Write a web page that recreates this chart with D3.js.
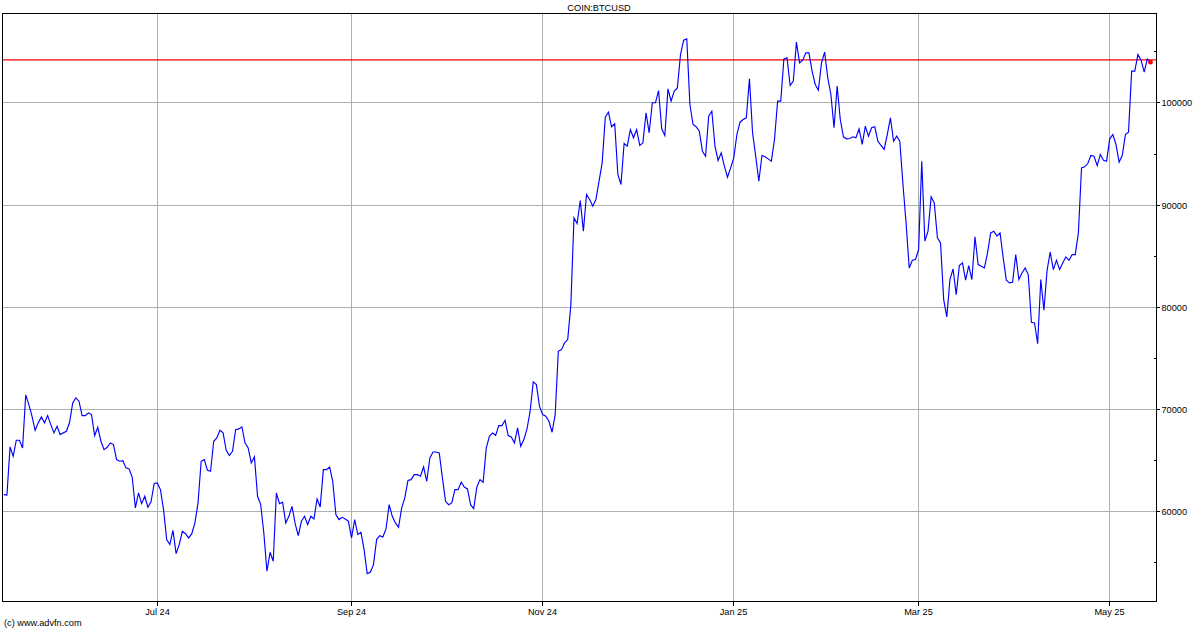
<!DOCTYPE html>
<html><head><meta charset="utf-8">
<script src="https://cdn.jsdelivr.net/npm/d3@7"></script>
<style>
html,body{margin:0;padding:0;background:#fff;}
svg{display:block;}
text{font-family:"Liberation Sans",Arial,Helvetica,sans-serif;fill:#000;}
</style>
</head><body>
<svg id="chart" width="1200" height="630"></svg>
<script>
// ---------- DATA ----------
const chartTitle = "COIN:BTCUSD";
const footerText = "(c) www.advfn.com";
const startDate = "2024-05-13";            // first daily close
const xDomain = ["2024-05-12T14:10:00Z", "2025-05-15T22:20:00Z"];
const yDomain = [51139, 108712];

const closesMay24 = [61600,61550,66280,65360,66930,66930,66170,71370,70420,69280,67900,68630,69210,68630,69340,68460,67650,68300,67480];
const closesJun24 = [67650,67810,68690,70580,71070,70750,69340,69340,69600,69440,67380,68200,66830,66010,66240,66670,66500,65030,64870,64930,64220,64120,63300,60300,61770,60720,61440,60370,60890,62690];
const closesJul24 = [62750,62100,60140,57200,56710,58110,55830,56710,58010,57780,57360,57780,58830,60790,64870,65030,63990,63890,66830,67160,67910,67650,65950,65430,65850,67970,68040,68230,66670,66180,64710];
const closesAug24 = [65300,61440,60630,57850,54100,55960,55080,61770,60720,60850,58830,59480,60460,58770,57590,58990,59480,58670,59480,59220,61180,60400,64050,64050,64310,62910,59650,59160,59380,59220,58990];
const closesSep24 = [57360,59160,57690,57920,56220,53870,54000,54750,57200,57590,57460,58240,60620,59480,58830,58400,60300,61280,62980,63070,63560,63560,63400,64310,62910,65200,65780,65780,65680,63240];
const closesOct24 = [60950,60620,60790,62090,62090,62810,62350,62160,60620,60230,62350,63070,62810,66170,67320,67640,67410,68360,68360,68880,67380,67250,66660,68130,66340,66990,68030,69770,72640,72380,70240];
const closesNov24 = [69440,69280,68790,67710,69440,75640,75800,76460,76790,80210,88700,88150,90400,87400,90990,90500,89840,90500,92300,94090,98560,99050,97620,97910,92950,91970,95980,95720,97350,96540];
const closesDec24 = [97350,95790,96050,98990,97030,99970,99970,101170,97420,96770,101340,100130,101110,101430,104700,106100,106230,99800,97840,97620,97190,95230,94740,98660,99150,95720,94320,95070,93760,92680,93600];
const closesJan25 = [94580,96860,98070,98330,98500,102320,97030,94740,92290,94810,94680,94480,94250,96370,100130,100130,104275,104370,101660,102090,105910,103880,104140,104860,104860,103070,101760,101200,103880,104930,102420];
const closesFeb25 = [100780,97520,101600,98330,96640,96440,96470,96640,96540,97420,95890,97680,96700,97520,97620,96210,95790,95400,96860,98500,96210,96700,96210,92000,88200,83800,84550,84620];
const closesMar25 = [85600,94250,86420,87400,90760,90170,86740,86250,80700,79000,82660,83700,81190,84030,84290,82600,84030,82660,86840,84130,83970,83800,85270,87230,87400,86910,87230,84780,82600,82340,82400];
const closesApr25 = [85110,82660,83310,83800,83150,78480,78420,76390,82660,79660,83570,85340,83640,84550,83640,84290,84880,84550,85110,85110,87230,93600,93700,94020,94810,94740,93820,94900,94350,94250];
const closesMay25 = [96440,96860,95890,94150,94810,96860,97100,103070,103070,104700,104140,102970,104270,103950];

const refPrice = 104180;   // red horizontal reference line

const yGridValues  = [60000, 70000, 80000, 90000, 100000];
const yGridLabels  = ["60000", "70000", "80000", "90000", "100000"];
const yMinorValues = [55000, 65000, 75000, 85000, 95000, 105000];
const xTickDates   = ["2024-07-01", "2024-09-01", "2024-11-01", "2025-01-01", "2025-03-01", "2025-05-01"];
const xTickLabels  = ["Jul 24", "Sep 24", "Nov 24", "Jan 25", "Mar 25", "May 25"];

// ---------- BUILD ----------
const closes = [].concat(closesMay24, closesJun24, closesJul24, closesAug24, closesSep24, closesOct24,
  closesNov24, closesDec24, closesJan25, closesFeb25, closesMar25, closesApr25, closesMay25);
const d0 = new Date(startDate + "T00:00:00Z");
const series = closes.map((v, i) => ({ date: d3.utcDay.offset(d0, i), value: v }));

const L = 2.5, R = 1156.5, T = 13.5, B = 601.5;
const svg = d3.select("#chart");

const x = d3.scaleUtc().domain(xDomain.map(s => new Date(s))).range([L, R]);
const y = d3.scaleLinear().domain(yDomain).range([B, T]);

const gridColor = "#a9b1b1";

// horizontal grid
svg.append("g").selectAll("line").data(yGridValues).join("line")
  .attr("x1", L).attr("x2", R)
  .attr("y1", d => Math.round(y(d)) + 0.5).attr("y2", d => Math.round(y(d)) + 0.5)
  .attr("stroke", gridColor).attr("stroke-width", 1).attr("shape-rendering", "crispEdges");

// vertical grid
const xTicks = xTickDates.map(s => new Date(s + "T00:00:00Z"));
svg.append("g").selectAll("line").data(xTicks).join("line")
  .attr("x1", d => Math.floor(x(d)) + 0.5).attr("x2", d => Math.floor(x(d)) + 0.5)
  .attr("y1", T).attr("y2", B)
  .attr("stroke", gridColor).attr("stroke-width", 1).attr("shape-rendering", "crispEdges");

// clip for the series
svg.append("clipPath").attr("id", "plotclip").append("rect")
  .attr("x", L).attr("y", T).attr("width", R - L).attr("height", B - T);

// reference line
svg.append("line")
  .attr("x1", L).attr("x2", R)
  .attr("y1", y(refPrice)).attr("y2", y(refPrice))
  .attr("stroke", "#ff0000").attr("stroke-width", 1.2);

// price line
const line = d3.line().x(d => x(d.date)).y(d => y(d.value));
svg.append("path").datum(series)
  .attr("clip-path", "url(#plotclip)")
  .attr("d", line)
  .attr("fill", "none").attr("stroke", "#0000ff").attr("stroke-width", 1.15)
  .attr("stroke-linejoin", "miter");

// last point marker
const last = series[series.length - 1];
svg.append("circle").attr("cx", x(last.date)).attr("cy", y(last.value)).attr("r", 2.4).attr("fill", "#ff0000");

// frame
svg.append("rect").attr("x", L).attr("y", T).attr("width", R - L).attr("height", B - T)
  .attr("fill", "none").attr("stroke", "#000").attr("stroke-width", 1).attr("shape-rendering", "crispEdges");

// right axis ticks + labels
svg.append("g").selectAll("line").data(yGridValues).join("line")
  .attr("x1", R).attr("x2", R + 3)
  .attr("y1", d => Math.round(y(d)) + 0.5).attr("y2", d => Math.round(y(d)) + 0.5)
  .attr("stroke", "#000").attr("shape-rendering", "crispEdges");
svg.append("g").selectAll("line").data(yMinorValues).join("line")
  .attr("x1", R - 3).attr("x2", R)
  .attr("y1", d => Math.round(y(d)) + 0.5).attr("y2", d => Math.round(y(d)) + 0.5)
  .attr("stroke", "#000").attr("shape-rendering", "crispEdges");
svg.append("g").selectAll("text").data(yGridValues).join("text")
  .attr("x", R + 5).attr("y", d => Math.round(y(d)) + 3.5)
  .attr("font-size", 9.2).text((d, i) => yGridLabels[i]);

// bottom axis ticks + labels
svg.append("g").selectAll("line").data(xTicks).join("line")
  .attr("x1", d => Math.floor(x(d)) + 0.5).attr("x2", d => Math.floor(x(d)) + 0.5)
  .attr("y1", B).attr("y2", B + 4)
  .attr("stroke", "#000").attr("shape-rendering", "crispEdges");
svg.append("g").selectAll("text").data(xTicks).join("text")
  .attr("x", d => Math.floor(x(d)) + 0.5).attr("y", B + 13)
  .attr("text-anchor", "middle").attr("font-size", 9.2)
  .text((d, i) => xTickLabels[i]);

// title & footer
svg.append("text").attr("x", 599).attr("y", 10.5).attr("text-anchor", "middle")
  .attr("font-size", 9.2).text(chartTitle);
svg.append("text").attr("x", 4).attr("y", 626).attr("font-size", 9.2).text(footerText);
</script>
</body></html>
